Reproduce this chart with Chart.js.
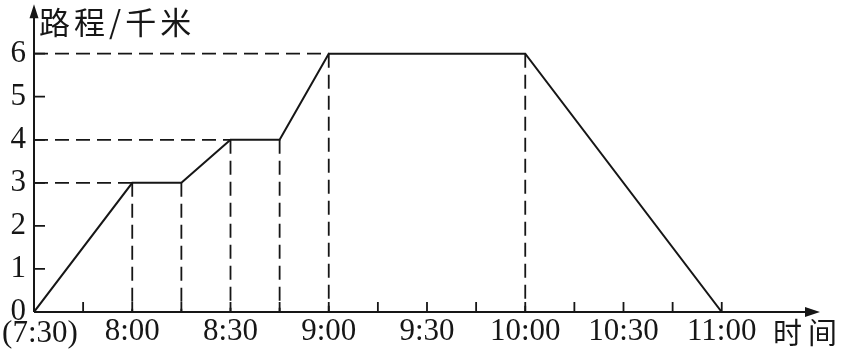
<!DOCTYPE html>
<html lang="zh">
<head>
<meta charset="UTF-8">
<title>路程/千米</title>
<script src="https://cdn.jsdelivr.net/npm/chart.js"></script>
<style>
body { margin: 0; background: #fff; }
#chart { display: block; }
</style>
</head>
<body>
<canvas id="chart" width="850" height="352"></canvas>
<script>
// minutes after 7:30
const times = [0, 30, 45, 60, 75, 90, 150, 210];
const distance = [0, 3, 3, 4, 4, 6, 6, 0];
const xTickValues = [0, 30, 60, 90, 120, 150, 180, 210];
const xTickLabels = ['(7:30)', '8:00', '8:30', '9:00', '9:30', '10:00', '10:30', '11:00'];
const yTickValues = [0, 1, 2, 3, 4, 5, 6];
const yTickLabels = ['0', '1', '2', '3', '4', '5', '6'];
const minorStep = 15;

const ink = '#161616';
const dash = [14, 7];
const tickFont = '"Liberation Serif"';

// dashed guides: vertical from every corner down, horizontal to first point of each level
const guides = [];
for (let i = 1; i < times.length - 1; i++) {
    guides.push([{x: times[i], y: distance[i]}, {x: times[i], y: 0}]);
}
const levels = [...new Set(distance.filter(d => d > 0))];
levels.forEach(d => {
    const i = distance.indexOf(d);
    guides.push([{x: 0, y: d}, {x: times[i], y: d}]);
});

const datasets = guides.map(g => ({
    data: g,
    borderColor: ink,
    borderWidth: 1.8,
    borderDash: dash,
    pointRadius: 0
}));
datasets.push({
    data: times.map((t, i) => ({x: t, y: distance[i]})),
    borderColor: ink,
    borderWidth: 2,
    pointRadius: 0,
    tension: 0
});

function noPad(s) {
    s.paddingLeft = 0; s.paddingRight = 0; s.paddingTop = 0; s.paddingBottom = 0;
}

const axesPlugin = {
    id: 'axes',
    afterDraw(chart) {
        const c = chart.ctx;
        const xs = chart.scales.x, ys = chart.scales.y;
        const x0 = xs.getPixelForValue(0), y0 = ys.getPixelForValue(0);
        const xEnd = xs.getPixelForValue(240), yEnd = ys.getPixelForValue(7.15);
        c.save();
        c.strokeStyle = ink;
        c.fillStyle = ink;
        c.lineWidth = 2;
        c.beginPath();
        c.moveTo(x0, y0); c.lineTo(xEnd - 6, y0);
        c.moveTo(x0, y0); c.lineTo(x0, yEnd + 6);
        c.stroke();
        // arrows
        c.beginPath();
        c.moveTo(xEnd, y0); c.lineTo(xEnd - 15, y0 - 5); c.lineTo(xEnd - 15, y0 + 5); c.closePath();
        c.moveTo(x0, yEnd); c.lineTo(x0 - 4.5, yEnd + 14); c.lineTo(x0 + 4.5, yEnd + 14); c.closePath();
        c.fill();
        // small tick marks
        c.lineWidth = 1.8;
        c.beginPath();
        for (let m = minorStep; m <= 210; m += minorStep) {
            const px = xs.getPixelForValue(m);
            c.moveTo(px, y0); c.lineTo(px, y0 - 10);
        }
        yTickValues.slice(1).forEach(v => {
            const py = ys.getPixelForValue(v);
            c.moveTo(x0, py); c.lineTo(x0 + 11, py);
        });
        c.stroke();
        // start label sits right of the origin
        c.textAlign = 'center';
        c.textBaseline = 'middle';
        c.font = '31px ' + tickFont;
        c.fillText(xTickLabels[0], x0 + 6, y0 + 22);
        // axis titles
        c.textAlign = 'left';
        c.font = '31px "Noto Sans CJK SC"';
        c.letterSpacing = '4px';
        c.fillText('路程/千米', 39, 22);
        c.font = '29px "Noto Sans CJK SC"';
        c.letterSpacing = '6px';
        c.fillText('时间', 773, 333);
        c.restore();
    }
};

new Chart(document.getElementById('chart'), {
    type: 'line',
    data: { datasets },
    options: {
        responsive: false,
        animation: false,
        layout: { padding: { top: 2, right: 30, bottom: 0, left: 0 } },
        plugins: { legend: { display: false }, tooltip: { enabled: false } },
        scales: {
            x: {
                type: 'linear',
                min: 0,
                max: 240,
                grid: { display: false, drawTicks: false },
                border: { display: false },
                afterBuildTicks: s => { s.ticks = xTickValues.map(v => ({ value: v })); },
                afterFit: s => { s.height = 40; noPad(s); },
                ticks: {
                    autoSkip: false,
                    maxRotation: 0,
                    padding: 1,
                    color: ink,
                    font: { family: tickFont, size: 31 },
                    callback: (v, i) => i === 0 ? '' : xTickLabels[i]
                }
            },
            y: {
                min: 0,
                max: 7.2,
                grid: { display: false, drawTicks: false },
                border: { display: false },
                afterBuildTicks: s => { s.ticks = yTickValues.map(v => ({ value: v })); },
                afterFit: s => { s.width = 34; noPad(s); },
                ticks: {
                    autoSkip: false,
                    padding: 8,
                    color: ink,
                    font: { family: tickFont, size: 31 },
                    callback: (v, i) => yTickLabels[i]
                }
            }
        }
    },
    plugins: [axesPlugin]
});
</script>
</body>
</html>
